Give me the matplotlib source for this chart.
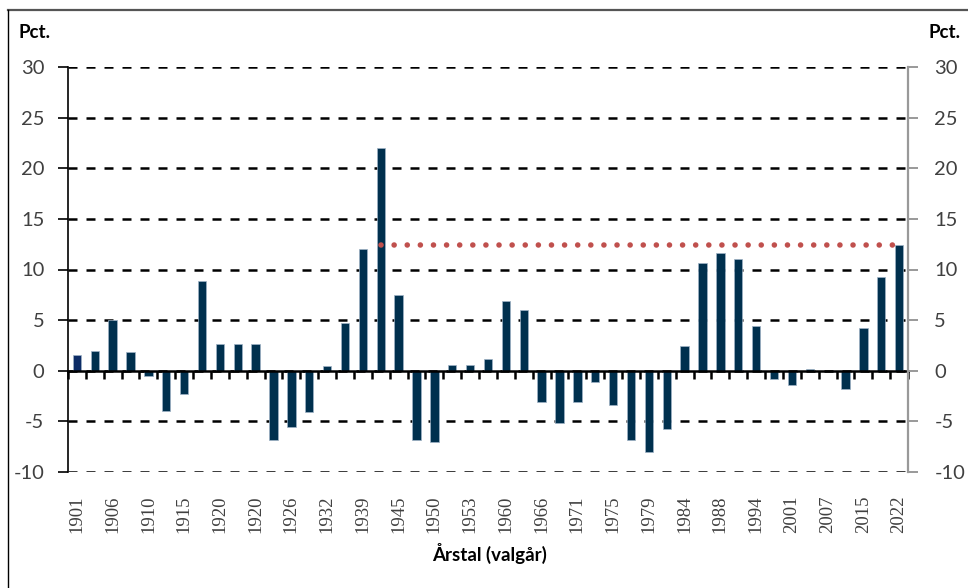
import matplotlib
matplotlib.use("Agg")
import matplotlib.pyplot as plt
import numpy as np
from matplotlib.lines import Line2D

years = ["1901", "1903", "1906", "1909", "1910", "1913", "1915", "1918",
         "1920", "1920", "1920", "1924", "1926", "1929", "1932", "1935",
         "1939", "1943", "1945", "1947", "1950", "1953", "1953", "1957",
         "1960", "1964", "1966", "1968", "1971", "1973", "1975", "1977",
         "1979", "1981", "1984", "1987", "1988", "1990", "1994", "1998",
         "2001", "2005", "2007", "2011", "2015", "2019", "2022"]
values = [1.6, 2.0, 5.0, 1.9, -0.5, -4.0, -2.3, 8.9,
          2.6, 2.6, 2.6, -6.8, -5.6, -4.1, 0.5, 4.7,
          12.0, 22.0, 7.5, -6.8, -7.0, 0.6, 0.6, 1.2,
          6.9, 6.0, -3.1, -5.2, -3.1, -1.1, -3.4, -6.8,
          -8.0, -5.8, 2.4, 10.6, 11.6, 11.0, 4.4, -0.8,
          -1.4, 0.2, 0.0, -1.8, 4.2, 9.3, 12.4]
ref_level = 12.4
ref_start = "1943"
yticks = [-10, -5, 0, 5, 10, 15, 20, 25, 30]
ylabel_txt = "Pct."
xlabel_txt = "Årstal (valgår)"

W, H = 968, 588
fig = plt.figure(figsize=(W / 100, H / 100), dpi=100)
fig.patch.set_facecolor("white")

L, R, T, B = 68, 908, 67, 472
ax = fig.add_axes([L / W, 1 - B / H, (R - L) / W, (B - T) / H])

n = len(years)
x = np.arange(n)
bar_col = "#00304E"
colors = [bar_col] * n
colors[0] = "#0D2C66"

ax.bar(x, values, width=0.47, color=colors, edgecolor="#9FB3C6",
       linewidth=0.5, zorder=3)

# reference dotted line
i0 = years.index(ref_start)
xr = x[i0:]
ax.plot(xr, [ref_level] * len(xr), color="#C0504D", lw=4.0,
        linestyle=(0, (0.01, 2.35)), dash_capstyle="round", zorder=4)

ax.set_xlim(-0.5, n - 0.5)
ax.set_ylim(-10, 30)
ax.set_yticks(yticks)
ax.set_yticklabels([str(v) for v in yticks])

# gridlines
ax.yaxis.grid(True, color="black", lw=1.8, linestyle=(0, (3.6, 3.6)))
ax.set_axisbelow(True)

for s in ["top", "right"]:
    ax.spines[s].set_visible(False)
ax.spines["left"].set_color("black")
ax.spines["left"].set_linewidth(1.2)
ax.spines["bottom"].set_position(("data", 0))
ax.spines["bottom"].set_color("black")
ax.spines["bottom"].set_linewidth(1.8)
ax.spines["bottom"].set_zorder(4)

ax.set_xticks(np.arange(n + 1) - 0.5)
ax.tick_params(axis="x", which="major", direction="out", length=6,
               width=1.8, color="black", labelbottom=False)
ax.tick_params(axis="y", direction="out", length=7, width=1.2,
               color="black", pad=10, labelsize=14.5, labelcolor="#404040")
for lab in ax.get_yticklabels():
    lab.set_family("Lato")

# labels at the bottom
sec = ax.secondary_xaxis(0)
sec.spines["bottom"].set_visible(False)
sec.set_xticks(x[::2])
sec.set_xticklabels(years[::2], rotation=90, family="Liberation Serif",
                    fontsize=13.5, color="#404040")
sec.tick_params(axis="x", length=0, pad=17)

# right axis
ax2 = ax.twinx()
ax2.set_ylim(-10, 30)
ax2.set_yticks(yticks)
ax2.set_yticklabels([str(v) for v in yticks])
for s in ["top", "left", "bottom"]:
    ax2.spines[s].set_visible(False)
ax2.spines["right"].set_color("#999999")
ax2.spines["right"].set_linewidth(1.6)
ax2.tick_params(axis="y", direction="out", length=7, width=1.4,
                color="#999999", pad=12, labelsize=14.5, labelcolor="#404040")
for lab in ax2.get_yticklabels():
    lab.set_family("Lato")

fig.text(18 / W, 1 - 32 / H, ylabel_txt, family="Lato", weight="bold",
         fontsize=13.5, ha="left", va="center", color="black")
fig.text(961 / W, 1 - 32 / H, ylabel_txt, family="Lato", weight="bold",
         fontsize=13.5, ha="right", va="center", color="black")
fig.text(489 / W, 1 - 553 / H, xlabel_txt, family="Lato", weight="bold",
         fontsize=13.5, ha="center", va="center", color="black")

# frame around the figure
fig.add_artist(Line2D([7.5 / W, 1.0], [1 - 10 / H, 1 - 10 / H],
                      transform=fig.transFigure, color="#555555", lw=1.6))
fig.add_artist(Line2D([7.5 / W, 7.5 / W], [0, 1 - 10 / H],
                      transform=fig.transFigure, color="black", lw=1.0))

fig.savefig("out.png", dpi=100, facecolor="white")
